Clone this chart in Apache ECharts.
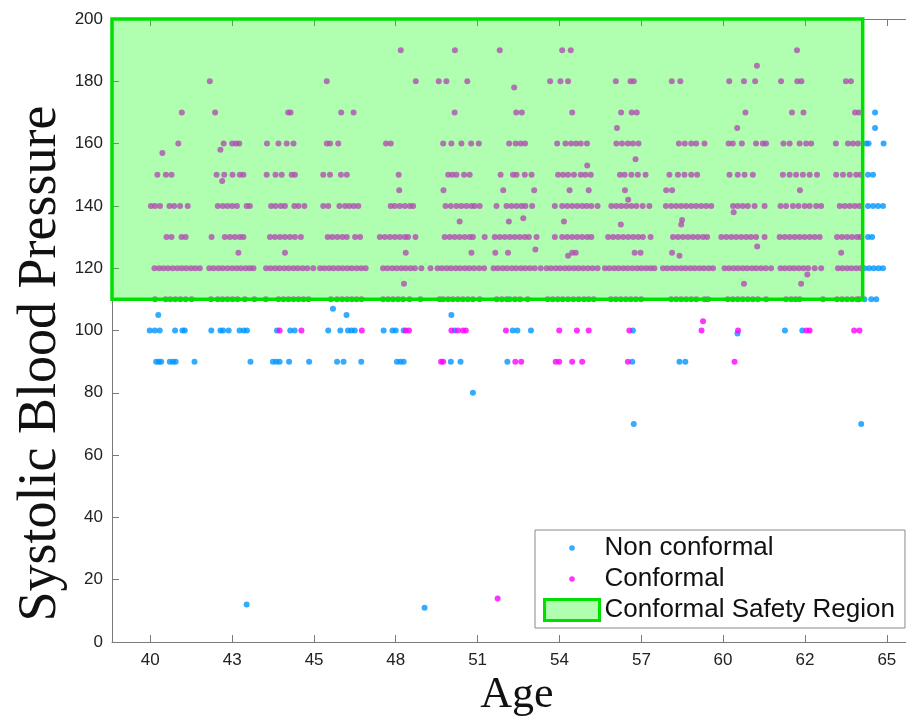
<!DOCTYPE html>
<html><head><meta charset="utf-8">
<script src="https://cdn.jsdelivr.net/npm/echarts@6/dist/echarts.min.js"></script>
<style>html,body{margin:0;padding:0;background:#fff}#c{width:906px;height:716px}</style>
</head><body><div id="c"></div>
<script>
// ---- tick labels ----
const xTickAges = [40, 42.78, 45.56, 48.33, 51.11, 53.89, 56.67, 59.44, 62.22, 65];
const xTickLabels = ['40', '43', '45', '48', '51', '54', '57', '60', '62', '65'];

// ---- safety region [ageFrom, bpFrom, ageTo, bpTo] ----
const regionAgeFrom = 38.70, regionAgeTo = 64.18, regionBpFrom = 110, regionBpTo = 200;

// ---- Conformal points: ages per blood-pressure level ----
const conf190 = [48.50, 50.34, 51.86, 53.98, 54.27, 61.95];
const conf185 = [60.59];
const conf180 = [42.02, 45.99, 49.01, 49.79, 50.05, 50.76, 53.57, 53.92, 54.18, 55.80, 56.30, 56.41, 57.70, 57.99, 59.65, 60.15, 60.53, 61.41, 61.96, 62.10, 63.61, 63.78];
const conf170 = [41.07, 42.20, 44.68, 44.76, 46.48, 46.90, 50.33, 52.42, 52.61, 54.32, 55.98, 56.34, 56.51, 60.20, 61.78, 62.17, 63.92, 64.05];
const conf165 = [55.84, 59.92];
const conf160 = [40.95, 42.49, 42.78, 42.91, 43.02, 43.96, 44.35, 44.63, 44.86, 45.99, 46.10, 46.38, 48.00, 48.16, 49.94, 50.22, 50.56, 50.89, 51.15, 52.18, 52.40, 52.57, 52.72, 53.81, 54.09, 54.28, 54.45, 54.61, 54.82, 55.82, 56.01, 56.21, 56.38, 56.57, 57.94, 58.14, 58.36, 58.53, 58.81, 59.63, 59.77, 60.08, 60.56, 60.79, 60.90, 61.49, 61.70, 62.04, 62.26, 62.43, 63.27, 63.68, 63.85, 64.02];
const conf150 = [40.24, 40.53, 40.72, 42.25, 42.51, 42.79, 43.04, 43.16, 43.95, 44.25, 44.46, 44.80, 44.91, 45.87, 46.10, 46.47, 46.67, 48.43, 50.11, 50.25, 50.39, 50.65, 50.84, 51.89, 52.31, 52.43, 52.71, 52.94, 53.84, 54.01, 54.18, 54.38, 54.61, 54.77, 54.95, 55.94, 56.10, 56.33, 56.55, 56.81, 57.62, 57.91, 58.13, 58.36, 58.56, 59.66, 59.94, 60.17, 60.45, 61.47, 61.70, 61.92, 62.15, 62.38, 62.63, 63.28, 63.51, 63.74, 63.96, 64.11];
const conf145 = [48.45, 49.95, 51.98, 53.03, 54.23, 54.88, 56.11, 57.51, 57.71, 62.05];
const conf140 = [40.02, 40.16, 40.33, 40.65, 40.81, 41.01, 41.27, 42.29, 42.46, 42.62, 42.78, 42.94, 43.27, 43.38, 44.10, 44.25, 44.43, 44.57, 44.89, 45.03, 45.23, 45.87, 46.04, 46.42, 46.61, 46.76, 46.91, 47.06, 48.16, 48.30, 48.47, 48.64, 48.81, 48.92, 50.02, 50.20, 50.39, 50.56, 50.73, 50.90, 51.01, 51.18, 51.75, 52.09, 52.26, 52.43, 52.60, 52.73, 52.96, 53.73, 53.98, 54.15, 54.32, 54.49, 54.66, 54.81, 54.97, 55.18, 55.65, 55.82, 55.99, 56.16, 56.33, 56.50, 56.71, 56.94, 57.50, 57.68, 57.85, 58.02, 58.19, 58.36, 58.53, 58.70, 58.87, 59.04, 59.78, 59.94, 60.11, 60.28, 60.51, 60.85, 61.39, 61.58, 61.81, 62.00, 62.21, 62.38, 62.60, 62.77, 63.40, 63.57, 63.74, 63.91, 64.07];
const conf130 = [40.55, 40.72, 41.06, 41.20, 42.08, 42.53, 42.70, 42.87, 43.04, 43.16, 44.06, 44.23, 44.40, 44.57, 44.74, 44.91, 45.11, 46.02, 46.18, 46.35, 46.52, 46.67, 46.95, 47.12, 47.79, 47.96, 48.13, 48.30, 48.47, 48.64, 48.75, 49.00, 49.99, 50.16, 50.33, 50.50, 50.67, 50.84, 50.95, 51.35, 51.69, 51.86, 52.03, 52.20, 52.37, 52.54, 52.71, 52.85, 53.11, 53.73, 53.98, 54.15, 54.32, 54.49, 54.66, 54.83, 54.97, 55.54, 55.71, 55.88, 56.05, 56.22, 56.39, 56.56, 56.72, 56.98, 57.74, 57.91, 58.08, 58.25, 58.42, 58.59, 58.76, 58.90, 59.38, 59.55, 59.72, 59.89, 60.06, 60.23, 60.39, 60.56, 60.85, 61.36, 61.53, 61.70, 61.87, 62.04, 62.21, 62.38, 62.55, 62.72, 63.31, 63.48, 63.65, 63.82, 63.99, 64.11];
const conf125 = [42.99, 44.57, 48.67, 50.90, 51.71, 52.14, 54.32, 54.44, 56.44, 56.64, 57.71, 63.45];
const conf120 = [40.14, 40.30, 40.45, 40.60, 40.76, 40.92, 41.07, 41.22, 41.38, 41.53, 41.68,
  42.00, 42.15, 42.31, 42.46, 42.62, 42.78, 42.93, 43.08, 43.24, 43.38, 43.50,
  43.93, 44.08, 44.24, 44.39, 44.55, 44.70, 44.86, 45.01, 45.17, 45.33, 45.53,
  45.76, 45.91, 46.07, 46.22, 46.38, 46.53, 46.69, 46.84, 47.00, 47.16, 47.31,
  47.90, 48.05, 48.21, 48.36, 48.52, 48.67, 48.83, 48.98, 49.20, 49.51,
  49.75, 49.90, 50.06, 50.21, 50.37, 50.52, 50.68, 50.83, 50.99, 51.16, 51.33,
  51.65, 51.80, 51.96, 52.11, 52.27, 52.42, 52.58, 52.73, 52.89, 53.05, 53.25,
  53.45, 53.60, 53.76, 53.91, 54.07, 54.22, 54.38, 54.53, 54.69, 54.85, 55.01, 55.18,
  55.43, 55.58, 55.74, 55.89, 56.05, 56.20, 56.36, 56.52, 56.67, 56.83, 56.98, 57.11,
  57.40, 57.55, 57.71, 57.86, 58.02, 58.17, 58.33, 58.48, 58.64, 58.79, 58.95, 59.10,
  59.49, 59.64, 59.80, 59.95, 60.11, 60.26, 60.42, 60.57, 60.73, 60.89, 61.07,
  61.39, 61.54, 61.70, 61.85, 62.01, 62.17, 62.33, 62.55, 62.77,
  63.34, 63.49, 63.65, 63.80, 63.96, 64.11];
const conf110 = [40.16, 40.52, 40.68, 40.85, 41.02, 41.20, 41.40, 42.06, 42.29, 42.45, 42.62, 42.79, 42.96, 43.21, 43.53, 43.92,
  44.35, 44.52, 44.69, 44.86, 45.03, 45.20, 45.37, 46.13, 46.34, 46.51, 46.68, 46.84, 47.00, 47.17,
  47.90, 48.07, 48.24, 48.41, 48.58, 48.80, 49.17, 49.82, 49.94, 50.11, 50.27, 50.44, 50.61, 50.78, 50.95, 51.18,
  51.76, 51.93, 52.10, 52.38, 52.55, 52.81, 53.49, 53.66, 53.83, 54.00, 54.18, 54.36, 54.54, 54.72, 54.88, 55.05,
  55.63, 55.80, 55.97, 56.14, 56.31, 56.48, 56.66, 57.68, 57.85, 58.02, 58.19, 58.36, 58.53, 58.81, 58.93,
  59.60, 59.77, 59.94, 60.11, 60.28, 60.45, 60.62, 60.90, 61.58, 61.75, 61.90, 62.04, 62.83,
  63.31, 63.48, 63.65, 63.82, 63.99, 64.07];
const conf100 = [44.39, 45.13, 47.18, 48.67, 48.78, 50.22, 50.44, 50.61, 50.71, 52.07, 53.88, 54.48, 54.88, 56.26, 58.71, 59.95, 62.27, 62.38, 63.89, 64.07];
const conf90 = [49.87, 49.94, 52.39, 52.59, 53.76, 53.88, 54.32, 54.66, 56.21, 59.83];
const confOther = [[40.41, 157], [42.38, 158], [42.44, 148], [54.83, 153], [56.47, 155], [52.35, 178], [56.22, 142], [59.80, 138],
  [50.50, 135], [52.17, 135], [52.66, 136], [54.04, 135], [55.97, 134], [58.02, 134], [58.05, 135.5],
  [53.07, 126], [54.18, 124], [57.96, 124], [60.60, 127], [48.61, 115], [60.15, 115], [62.09, 115], [62.30, 118],
  [58.76, 103], [51.79, 14]];

// ---- Non conformal points ----
const nonc170 = [64.60];
const nonc165 = [64.60];
const nonc160 = [64.30, 64.38, 64.89];
const nonc150 = [64.36, 64.53];
const nonc140 = [64.36, 64.53, 64.70, 64.87];
const nonc130 = [64.36, 64.50];
const nonc120 = [64.24, 64.40, 64.56, 64.72, 64.87];
const nonc110 = [52.20, 64.24, 64.47, 64.64];
const nonc100 = [39.98, 40.15, 40.32, 40.84, 41.09, 41.17, 42.07, 42.38, 42.47, 42.66, 43.03, 43.17, 43.28, 44.30, 44.75, 44.90, 46.04, 46.45, 46.71, 46.83, 46.94, 47.92, 48.22, 48.33, 48.60, 50.33, 52.30, 52.46, 52.92, 56.38, 61.54, 62.13];
const nonc90 = [40.20, 40.29, 40.37, 40.66, 40.77, 40.86, 41.50, 43.40, 44.16, 44.28, 44.39, 44.71, 45.39, 46.34, 46.56, 47.16, 48.37, 48.49, 48.60, 50.20, 50.53, 52.12, 56.36, 57.96, 58.16];
const noncOther = [[40.27, 105], [46.20, 107], [46.66, 105], [50.22, 105], [50.95, 80], [56.41, 70], [64.13, 70], [43.27, 12], [49.31, 11], [59.93, 99]];

function build(rows, other) {
  const out = [];
  rows.forEach(([bp, ages]) => ages.forEach(a => out.push([a, bp])));
  other.forEach(p => out.push(p));
  return out;
}
const confData = build([[190, conf190], [185, conf185], [180, conf180], [170, conf170], [165, conf165], [160, conf160], [150, conf150], [145, conf145], [140, conf140], [130, conf130], [125, conf125], [120, conf120], [110, conf110], [100, conf100], [90, conf90]], confOther);
const noncData = build([[170, nonc170], [165, nonc165], [160, nonc160], [150, nonc150], [140, nonc140], [130, nonc130], [120, nonc120], [110, nonc110], [100, nonc100], [90, nonc90]], noncOther);

const BLUE = '#0096ff', MAGENTA = '#ff00ff';
const dotIcon = 'path://M0,0M55,21M24.7,10.5a2.8,2.8 0 1,0 5.6,0a2.8,2.8 0 1,0 -5.6,0z';

function tickLabel(v) {
  let best = 0;
  for (let i = 1; i < xTickAges.length; i++) if (Math.abs(xTickAges[i] - v) < Math.abs(xTickAges[best] - v)) best = i;
  return xTickLabels[best];
}

const axisGray = '#7a7a7a';
const chart = echarts.init(document.getElementById('c'), null, { renderer: 'canvas' });
chart.setOption({
  animation: false,
  backgroundColor: '#fff',
  grid: { left: 112, right: 0, top: 19, bottom: 74, containLabel: false, outerBoundsMode: 'none' },
  xAxis: [{
    type: 'value', min: 38.70, max: 65.65, position: 'bottom',
    name: 'Age', nameLocation: 'middle', nameGap: 31, nameMoveOverlap: false,
    nameTextStyle: { fontFamily: 'Liberation Serif', fontSize: 44, color: '#111', padding: [0, 0, 0, 16] },
    axisLine: { show: true, lineStyle: { color: axisGray, width: 1 } },
    axisTick: { show: true, inside: true, length: 7, customValues: xTickAges, lineStyle: { color: axisGray } },
    axisLabel: { customValues: xTickAges, formatter: tickLabel, margin: 10, fontFamily: 'Liberation Sans', fontSize: 17, color: '#222' },
    splitLine: { show: false }
  }, {
    type: 'value', min: 38.70, max: 65.65, position: 'top',
    axisLine: { show: true, lineStyle: { color: axisGray, width: 1 } },
    axisTick: { show: true, inside: true, length: 7, customValues: xTickAges, lineStyle: { color: axisGray } },
    axisLabel: { show: false },
    splitLine: { show: false }
  }],
  yAxis: {
    type: 'value', min: 0, max: 200, interval: 20,
    name: 'Systolic Blood Pressure', nameLocation: 'middle', nameGap: 44, nameMoveOverlap: false,
    nameTextStyle: { fontFamily: 'Liberation Serif', fontSize: 54, color: '#111', padding: [0, 66, 0, 0] },
    axisLine: { show: true, lineStyle: { color: axisGray, width: 1 } },
    axisTick: { show: true, inside: true, length: 7, lineStyle: { color: axisGray } },
    axisLabel: { margin: 9, fontFamily: 'Liberation Sans', fontSize: 17, color: '#222' },
    splitLine: { show: false }
  },
  legend: {
    orient: 'vertical', left: 535, top: 530,
    padding: [5, 10, 5, 8], itemGap: 5, itemWidth: 55, itemHeight: 21,
    backgroundColor: '#fff', borderColor: '#8a8a8a', borderWidth: 1,
    textStyle: { fontFamily: 'Liberation Sans', fontSize: 26, color: '#111' },
    data: [
      { name: 'Non conformal', icon: dotIcon },
      { name: 'Conformal', icon: dotIcon },
      { name: 'Conformal Safety Region', icon: 'rect', itemStyle: { color: 'rgba(0,255,0,0.31)', borderColor: '#00e000', borderWidth: 3 } }
    ]
  },
  series: [
    { name: 'Non conformal', type: 'scatter', symbol: 'circle', symbolSize: 6, itemStyle: { color: BLUE }, data: noncData, z: 2 },
    { name: 'Conformal', type: 'scatter', symbol: 'circle', symbolSize: 6, itemStyle: { color: MAGENTA }, data: confData, z: 2 },
    {
      name: 'Conformal Safety Region', type: 'custom', z: 3, clip: false,
      itemStyle: { color: 'rgba(0,255,0,0.31)', borderColor: '#00e000', borderWidth: 3 },
      data: [[regionAgeFrom, regionBpFrom, regionAgeTo, regionBpTo]],
      renderItem: function (params, api) {
        const p0 = api.coord([api.value(0), api.value(1)]);
        const p1 = api.coord([api.value(2), api.value(3)]);
        return {
          type: 'rect',
          shape: { x: p0[0], y: p1[1], width: p1[0] - p0[0], height: p0[1] - p1[1] },
          style: { fill: 'rgba(0,255,0,0.31)', stroke: '#00e000', lineWidth: 3.5 }
        };
      }
    }
  ]
});
</script></body></html>
